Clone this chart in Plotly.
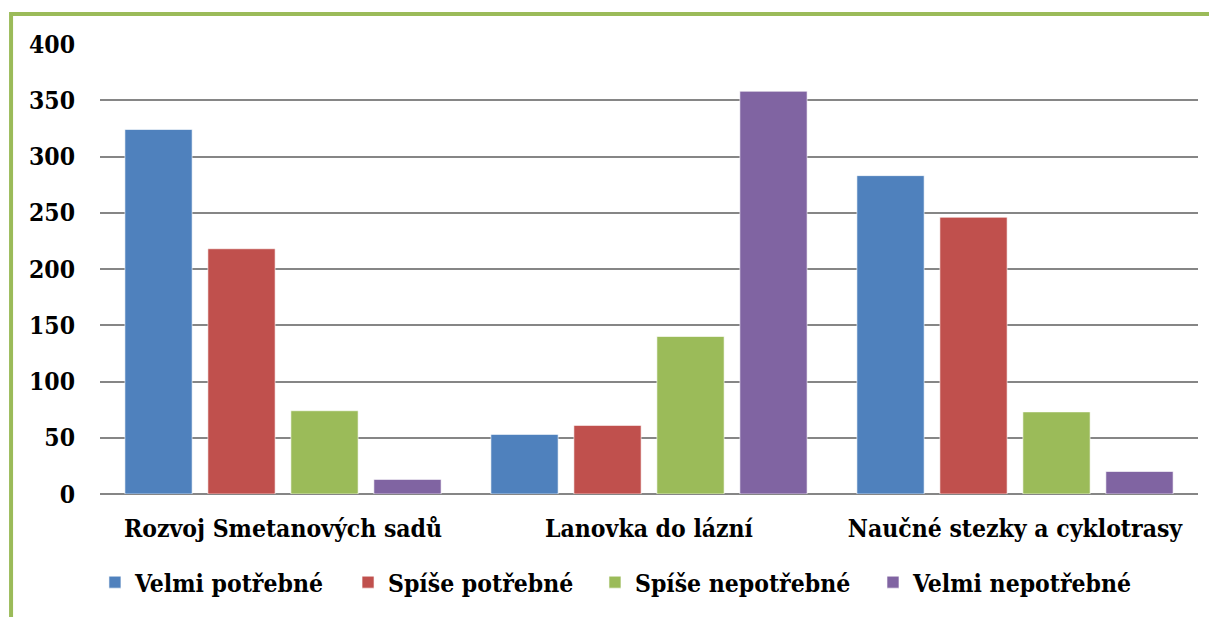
import plotly.graph_objects as go

categories = ["Rozvoj Smetanových sadů", "Lanovka do lázní", "Naučné stezky a cyklotrasy"]
series_names = ["Velmi potřebné", "Spíše potřebné", "Spíše nepotřebné", "Velmi nepotřebné"]
velmi_potrebne = [324, 53, 283]
spise_potrebne = [218, 61, 246]
spise_nepotrebne = [74, 140, 73]
velmi_nepotrebne = [13, 358, 20]
y_ticks = [0, 50, 100, 150, 200, 250, 300, 350, 400]

colors = ["#4F81BD", "#C0504D", "#9BBB59", "#8064A2"]
values = [velmi_potrebne, spise_potrebne, spise_nepotrebne, velmi_nepotrebne]
legend_ids = ["legend", "legend2", "legend3", "legend4"]
legend_x = [-0.0046, 0.2259, 0.4508, 0.7040]

FONT = "'DejaVu Serif Condensed', 'DejaVu Serif', serif"

fig = go.Figure()
for name, vals, col, lid in zip(series_names, values, colors, legend_ids):
    fig.add_trace(go.Bar(
        x=categories, y=vals, name=name, legend=lid,
        marker=dict(color=col, line=dict(color="rgba(255,255,255,0.6)", width=1)),
    ))

legend_style = dict(
    orientation="h", xanchor="left", y=-0.196, yanchor="middle",
    font=dict(family=FONT, size=24.5, color="black", weight="bold"),
    itemwidth=30, bgcolor="rgba(0,0,0,0)",
)

fig.update_layout(
    width=1209, height=609,
    barmode="group", bargap=0.093, bargroupgap=0.19,
    paper_bgcolor="white", plot_bgcolor="white",
    margin=dict(l=92, r=19, t=36, b=123),
    font=dict(family=FONT, size=24, color="black"),
    showlegend=True,
    xaxis=dict(
        showgrid=False, showline=False, ticks="",
        tickfont=dict(family=FONT, size=24.5, color="black", weight="bold"),
        ticklabelstandoff=17,
    ),
    yaxis=dict(
        range=[0, 400], tickvals=y_ticks,
        showgrid=True, gridcolor="#868686", gridwidth=2,
        zeroline=True, zerolinecolor="#868686", zerolinewidth=2,
        showline=False, ticks="",
        tickfont=dict(family=FONT, size=24.5, color="black", weight="bold"),
        ticklabelstandoff=24,
    ),
    shapes=[
        dict(type="line", xref="paper", yref="paper",
             x0=-0.081, x1=1.02, y0=1.0667, y1=1.0667,
             line=dict(color="#9BBB59", width=4)),
        dict(type="line", xref="paper", yref="paper",
             x0=-0.081, x1=-0.081, y0=1.0711, y1=-0.28,
             line=dict(color="#9BBB59", width=4)),
    ],
)
for lid, lx in zip(legend_ids, legend_x):
    fig.update_layout({lid: dict(legend_style, x=lx)})

fig.write_html("out.html")
